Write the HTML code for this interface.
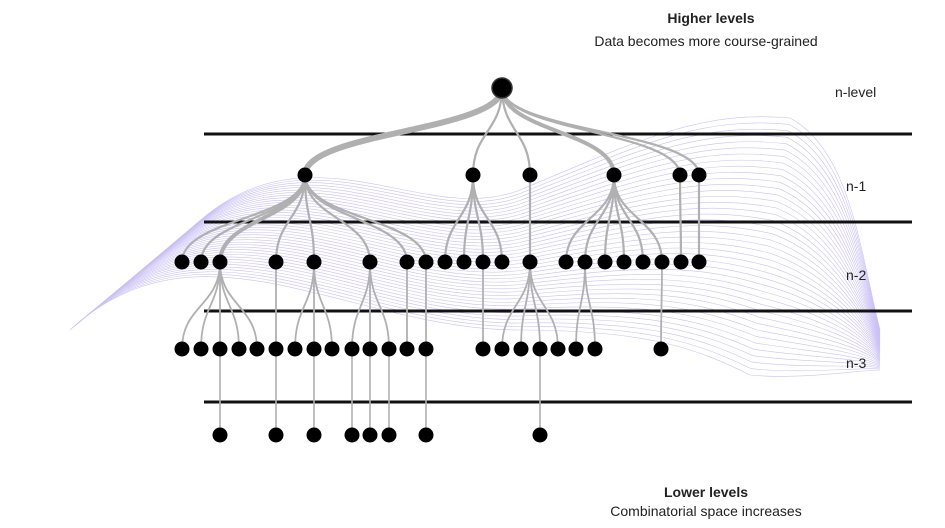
<!DOCTYPE html>
<html><head><meta charset="utf-8"><style>
html,body{margin:0;padding:0;background:#fff;}
svg{display:block}
text{font-family:"Liberation Sans",sans-serif;fill:#222;}
</style></head><body>
<svg id="s" width="945" height="528" viewBox="0 0 945 528" xmlns="http://www.w3.org/2000/svg">
<g id="wave" fill="none" stroke="#b9acf0" stroke-width="0.6" opacity="0.75"></g>
<g id="lines" stroke="#111" stroke-width="3">
<line x1="204" y1="134" x2="912" y2="134"/>
<line x1="204" y1="222" x2="912" y2="222"/>
<line x1="204" y1="311" x2="912" y2="311"/>
<line x1="204" y1="402" x2="912" y2="402"/>
</g>
<g id="edges" fill="none" stroke="#b0b0b0"></g>
<g id="nodes" fill="#000"></g>
<text x="711" y="23" text-anchor="middle" font-size="14" font-weight="bold">Higher levels</text>
<text x="706" y="46" text-anchor="middle" font-size="14">Data becomes more course-grained</text>
<text x="835" y="97" font-size="14">n-level</text>
<text x="846" y="191" font-size="14">n-1</text>
<text x="846" y="280" font-size="14">n-2</text>
<text x="846" y="368" font-size="14">n-3</text>
<text x="706" y="497" text-anchor="middle" font-size="14" font-weight="bold">Lower levels</text>
<text x="706" y="516" text-anchor="middle" font-size="14">Combinatorial space increases</text>
</svg>
<script>
var NS="http://www.w3.org/2000/svg";
function el(p,t,a){var e=document.createElementNS(NS,t);for(var k in a)e.setAttribute(k,a[k]);document.getElementById(p).appendChild(e);return e;}
var T=[180,240,300,110,420,230,520,190,640,140,700,110,790,118,850,150,860,250,880,330];
var B=[70,330,200,210,350,330,520,330,650,330,700,350,750,375,800,380,860,370,880,370];
for(var i=0;i<=40;i++){var t=i/40,P=T.map(function(v,j){return (v+(B[j]-v)*t).toFixed(1);});
var d="M"+P[0]+","+P[1]+" C"+P[2]+","+P[3]+" "+P[4]+","+P[5]+" "+P[6]+","+P[7]+" C"+P[8]+","+P[9]+" "+P[10]+","+P[11]+" "+P[12]+","+P[13]+" C"+P[14]+","+P[15]+" "+P[16]+","+P[17]+" "+P[18]+","+P[19];
el("wave","path",{d:d});}
var Y=[88,175,262,349,435];
function edge(px,py,cx,cy,w){var m=(py+cy)/2;el("edges","path",{d:"M"+px+","+py+" C"+px+","+m+" "+cx+","+m+" "+cx+","+cy,"stroke-width":w||2.2});}
var root=502;
[[305,6],[473,2.2],[530,2.2],[614,4],[680,2.2],[699,2.2]].forEach(function(a){edge(root,Y[0],a[0],Y[1],a[1]);});
var L2={305:[182,201,220,276,314,370,407,426],473:[445,464,483,502],530:[530],614:[566,585,605,624,643,662],680:[681],699:[699]};
for(var p in L2)L2[p].forEach(function(c){edge(+p,Y[1],c,Y[2],(p==305&&c==220)?4:2.2);});
var L3={220:[182,201,220,239,257],276:[276],314:[295,314,332],370:[352,370,389],407:[407],426:[426],483:[483],530:[502,521,540,558],585:[576,595],662:[661]};
for(var p in L3)L3[p].forEach(function(c){edge(+p,Y[2],c,Y[3],1.8);});
[220,276,314,352,370,389,426,540].forEach(function(c){edge(c,Y[3],c,Y[4],1.6);});
el("nodes","circle",{cx:root,cy:Y[0],r:10,stroke:"#333","stroke-width":1.5});
var N=[[305,473,530,614,680,699],[182,201,220,276,314,370,407,426,445,464,483,502,530,566,585,605,624,643,662,681,699],[182,201,220,239,257,276,295,314,332,352,370,389,407,426,483,502,521,540,558,576,595,661],[220,276,314,352,370,389,426,540]];
N.forEach(function(r,i){r.forEach(function(x){el("nodes","circle",{cx:x,cy:Y[i+1],r:7.5});});});
</script>
</body></html>
